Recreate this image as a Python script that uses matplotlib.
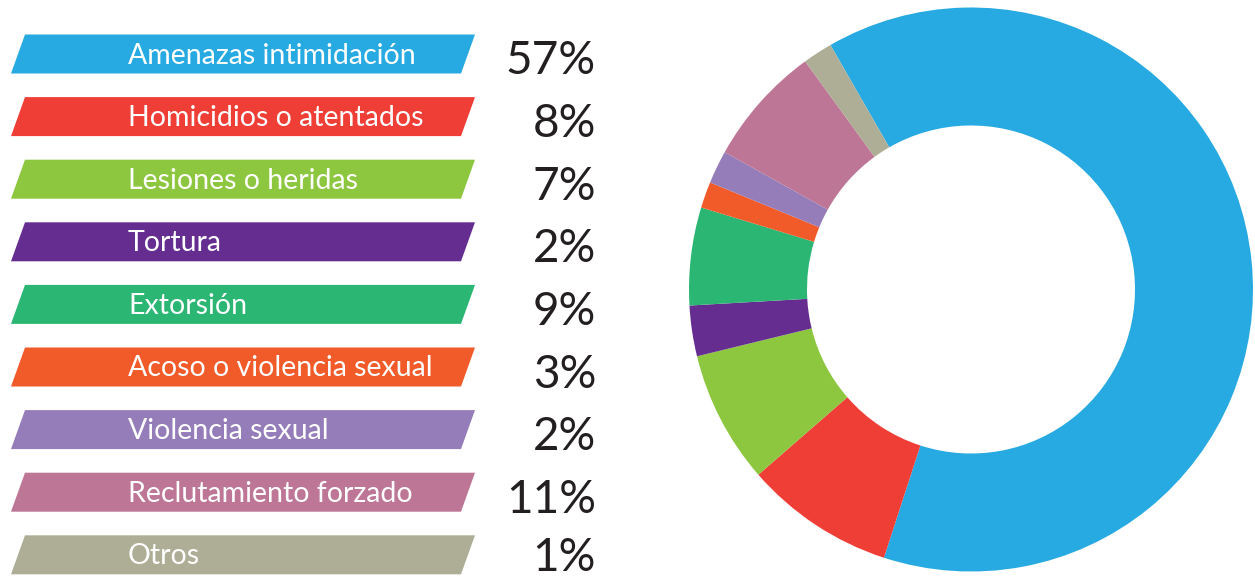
import matplotlib.pyplot as plt
from matplotlib.patches import Polygon

# Categories and values as printed on the chart
categories = ['Amenazas intimidación', 'Homicidios o atentados', 'Lesiones o heridas',
              'Tortura', 'Extorsión', 'Acoso o violencia sexual', 'Violencia sexual',
              'Reclutamiento forzado', 'Otros']
pct_labels = [57, 8, 7, 2, 9, 3, 2, 11, 1]

# Slice sizes as they are actually drawn in the donut (shares in %)
wedge_share = [63.3, 8.6, 7.6, 2.9, 5.6, 1.5, 1.9, 6.9, 1.7]

colors = ['#27a9e1', '#ef3e36', '#8dc63f', '#662d91', '#2bb673',
          '#f15a29', '#957dba', '#bd7696', '#aeae96']

W, H = 1255, 578
fig = plt.figure(figsize=(W / 100, H / 100), dpi=100)
fig.patch.set_facecolor('white')

# left part: legend bars in pixel coordinates
ax = fig.add_axes([0, 0, 1, 1])
ax.set_xlim(0, W)
ax.set_ylim(H, 0)
ax.axis('off')

font = 'Lato'
row0, step, bar_h, slant = 34.5, 62.6, 39, 14
x_left, x_right = 11, 461
for i, (cat, pct, col) in enumerate(zip(categories, pct_labels, colors)):
    top = row0 + i * step
    bot = top + bar_h
    poly = Polygon([(x_left, bot), (x_left + slant, top), (x_right + slant, top), (x_right, bot)],
                   closed=True, facecolor=col, edgecolor='none')
    ax.add_patch(poly)
    ax.text(128, top + 29, cat, color='white', fontsize=20.5, family=font,
            ha='left', va='baseline')
    # last value sits a bit higher so it stays inside the picture
    base = min(top + 40, H - 7)
    ax.text(596, base, f'{pct}%', color='#231f20', fontsize=33, family=font,
            ha='right', va='baseline')

# right part: donut
cx, cy, r_out, r_in = 971, 289.5, 282, 164
ax2 = fig.add_axes([(cx - r_out) / W, (H - cy - r_out) / H, 2 * r_out / W, 2 * r_out / H])
ax2.pie(wedge_share, colors=colors, startangle=119.9, counterclock=False, radius=1,
        wedgeprops=dict(width=1 - r_in / r_out, edgecolor='none'))
ax2.set_xlim(-1, 1)
ax2.set_ylim(-1, 1)
ax2.set_aspect('equal')
ax2.axis('off')

fig.savefig('out.png', dpi=100)
